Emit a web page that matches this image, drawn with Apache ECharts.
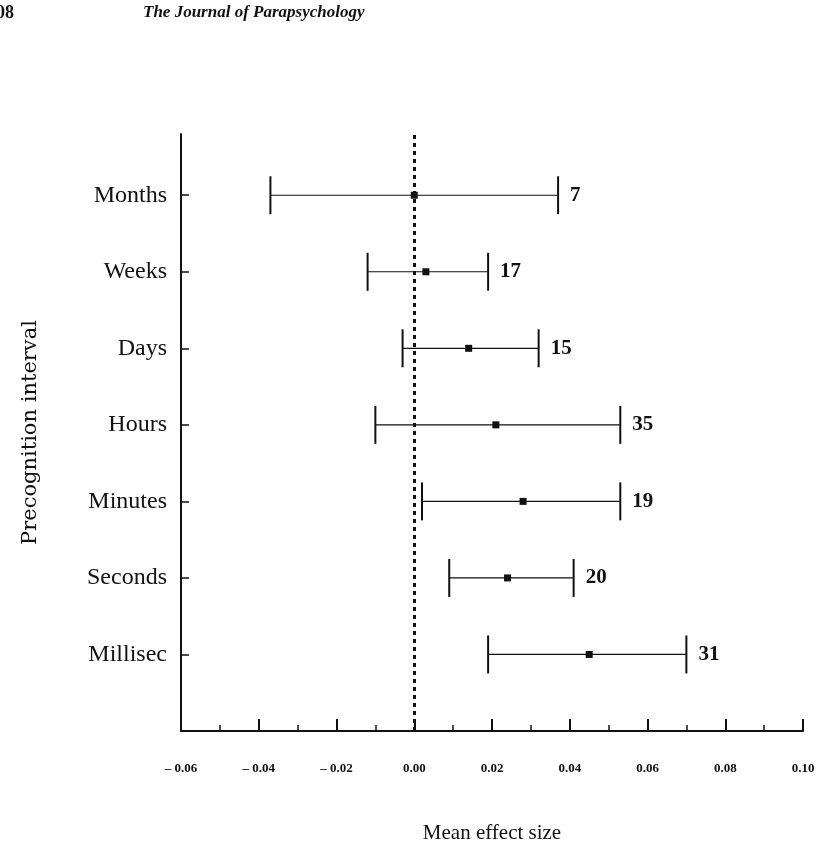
<!DOCTYPE html>
<html>
<head>
<meta charset="utf-8">
<script src="https://cdn.jsdelivr.net/npm/echarts@6/dist/echarts.min.js"></script>
<style>
html,body{margin:0;padding:0;background:#fff;}
#chart{width:820px;height:847px;}
</style>
</head>
<body>
<div id="chart"></div>
<script>
// Categories, top to bottom
const categories = ['Months', 'Weeks', 'Days', 'Hours', 'Minutes', 'Seconds', 'Millisec'];
// Mean effect size and interval bounds
const meanValues  = [0.000, 0.003, 0.014, 0.021, 0.028, 0.024, 0.045];
const lowerValues = [-0.037, -0.012, -0.003, -0.010, 0.002, 0.009, 0.019];
const upperValues = [0.037, 0.019, 0.032, 0.053, 0.053, 0.041, 0.070];
// Number of studies
const nValues = [7, 17, 15, 35, 19, 20, 31];
// X tick labels
const xTickLabels = ['– 0.06', '– 0.04', '– 0.02', '0.00', '0.02', '0.04', '0.06', '0.08', '0.10'];

const serif = '"Liberation Serif", "Times New Roman", serif';
const ink = '#111';

const rows = categories.map((c, i) => [lowerValues[i], meanValues[i], upperValues[i], categories.length - i, nValues[i]]);
const yPositions = categories.map((c, i) => categories.length - i);

const chart = echarts.init(document.getElementById('chart'), null, {renderer: 'canvas'});

chart.setOption({
  animation: false,
  backgroundColor: '#fff',
  graphic: [
    {type: 'text', left: -4, top: 4, style: {text: '08', font: 'bold 18px ' + serif, fill: ink}},
    {type: 'text', left: 143, top: 4, style: {text: 'The Journal of Parapsychology', font: 'italic bold 17px ' + serif, fill: ink}}
  ],
  grid: {left: 181, right: 17, top: 134, bottom: 116, containLabel: false, outerBoundsMode: 'none'},
  xAxis: {
    type: 'value',
    min: -0.06, max: 0.10, interval: 0.02,
    name: 'Mean effect size',
    nameLocation: 'middle',
    nameGap: 92,
    nameTextStyle: {fontFamily: serif, fontSize: 21, color: ink},
    axisLine: {show: true, onZero: false, lineStyle: {color: ink, width: 2}},
    axisTick: {show: true, inside: true, length: 12, lineStyle: {color: ink, width: 2}},
    minorTick: {show: true, splitNumber: 2, length: 6, lineStyle: {color: ink, width: 1.5}},
    splitLine: {show: false},
    axisLabel: {
      margin: 31,
      fontFamily: serif, fontSize: 13, fontWeight: 'bold', color: ink,
      formatter: (v) => {
        const idx = Math.round((v + 0.06) / 0.02);
        return xTickLabels[idx] !== undefined ? xTickLabels[idx] : '';
      }
    }
  },
  yAxis: {
    type: 'value',
    min: 0, max: 7.8, interval: 1,
    name: 'Precognition interval',
    nameLocation: 'middle',
    nameRotate: 90,
    nameGap: 140,
    nameTextStyle: {fontFamily: '"DejaVu Serif", serif', fontSize: 21, color: ink},
    axisLine: {show: true, onZero: false, lineStyle: {color: ink, width: 2}},
    axisTick: {show: true, inside: true, length: 8, customValues: yPositions, lineStyle: {color: ink, width: 1.5}},
    splitLine: {show: false},
    axisLabel: {
      margin: 14,
      customValues: yPositions,
      fontFamily: serif, fontSize: 24, color: ink,
      formatter: (v) => {
        const idx = categories.length - Math.round(v);
        return (idx >= 0 && idx < categories.length) ? categories[idx] : '';
      }
    }
  },
  series: [
    {
      type: 'custom',
      data: rows,
      encode: {x: [0, 1, 2], y: 3},
      renderItem: (params, api) => {
        const y = api.value(3);
        const pL = api.coord([api.value(0), y]);
        const pM = api.coord([api.value(1), y]);
        const pU = api.coord([api.value(2), y]);
        const capH = 19;
        const sq = 7;
        return {
          type: 'group',
          children: [
            {type: 'line', shape: {x1: pL[0], y1: pL[1], x2: pU[0], y2: pU[1]}, style: {stroke: ink, lineWidth: 1.2}},
            {type: 'line', shape: {x1: pL[0], y1: pL[1] - capH, x2: pL[0], y2: pL[1] + capH}, style: {stroke: ink, lineWidth: 2}},
            {type: 'line', shape: {x1: pU[0], y1: pU[1] - capH, x2: pU[0], y2: pU[1] + capH}, style: {stroke: ink, lineWidth: 2}},
            {type: 'rect', shape: {x: pM[0] - sq / 2, y: pM[1] - sq / 2, width: sq, height: sq}, style: {fill: ink}},
            {type: 'text', x: pU[0] + 12, y: pU[1], style: {text: String(api.value(4)), font: 'bold 21px ' + serif, fill: ink, verticalAlign: 'middle', align: 'left'}}
          ]
        };
      },
      z: 3
    },
    {
      type: 'line',
      data: [],
      markLine: {
        silent: true,
        symbol: ['none', 'none'],
        label: {show: false},
        lineStyle: {color: ink, type: [4, 4], width: 3},
        data: [{xAxis: 0}]
      }
    }
  ]
});
</script>
</body>
</html>
